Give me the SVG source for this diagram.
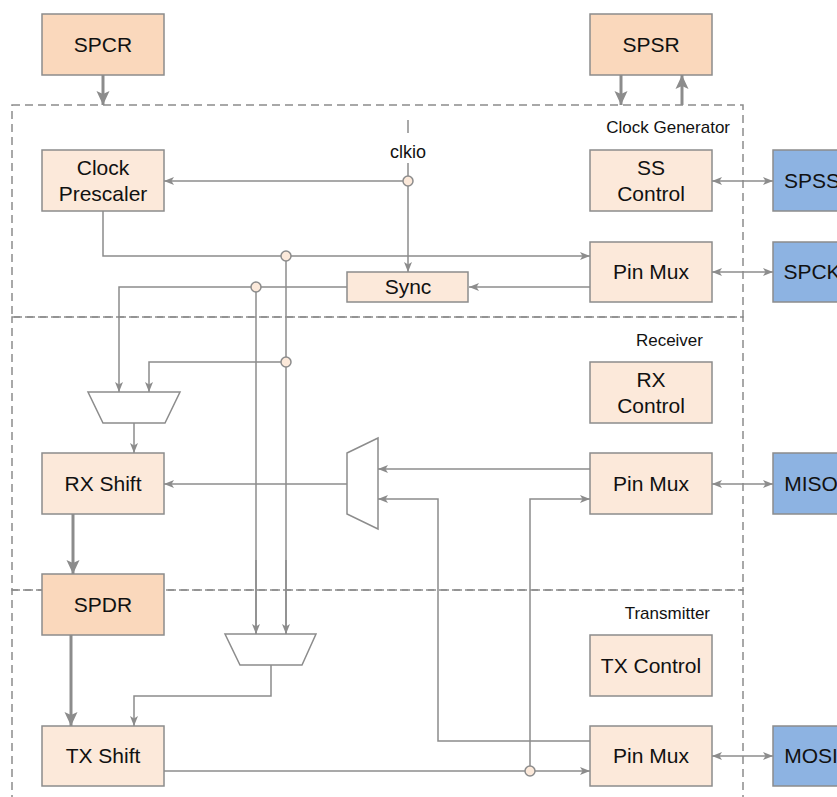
<svg xmlns="http://www.w3.org/2000/svg" width="837" height="797" viewBox="0 0 837 797">
<defs>
<style>
.reg{fill:#fad8bc;stroke:#8c8c8c;stroke-width:1.5}
.blk{fill:#fce9da;stroke:#8c8c8c;stroke-width:1.5}
.pin{fill:#8db3e2;stroke:#8c8c8c;stroke-width:1.5}
.mux{fill:#ffffff;stroke:#8c8c8c;stroke-width:1.5}
.sec{fill:none;stroke:#8c8c8c;stroke-width:1.5;stroke-dasharray:8 5}
.t{font-family:"Liberation Sans",Arial,sans-serif;font-size:21px;fill:#111;text-anchor:middle}
.lbl{font-family:"Liberation Sans",Arial,sans-serif;font-size:17px;fill:#111;text-anchor:end}
.w{fill:none;stroke:#8c8c8c;stroke-width:1.5}
.wa{fill:none;stroke:#8c8c8c;stroke-width:1.5;marker-end:url(#a)}
.wd{fill:none;stroke:#8c8c8c;stroke-width:1.5;marker-start:url(#as);marker-end:url(#a)}
.th{fill:none;stroke:#8c8c8c;stroke-width:3;marker-end:url(#b)}
.dot{fill:#fce9da;stroke:#8c8c8c;stroke-width:1.5}
</style>
<marker id="a" viewBox="0 0 10 10" refX="10" refY="5" markerWidth="10" markerHeight="10" markerUnits="userSpaceOnUse" orient="auto"><path d="M0,1 L10,5 L0,9 L2.5,5 Z" fill="#8c8c8c"/></marker>
<marker id="as" viewBox="0 0 10 10" refX="0" refY="5" markerWidth="10" markerHeight="10" markerUnits="userSpaceOnUse" orient="auto"><path d="M10,1 L0,5 L10,9 L7.5,5 Z" fill="#8c8c8c"/></marker>
<marker id="b" viewBox="0 0 14 14" refX="14" refY="7" markerWidth="14" markerHeight="14" markerUnits="userSpaceOnUse" orient="auto"><path d="M0,0.5 L14,7 L0,13.5 L3,7 Z" fill="#8c8c8c"/></marker>
</defs>
<rect width="837" height="797" fill="#ffffff"/>

<g id="sections">
<rect class="sec" x="12" y="105" width="731" height="212"/>
<rect class="sec" x="12" y="317" width="731" height="273"/>
<rect class="sec" x="12" y="590" width="731" height="240"/>
<text class="lbl" x="730" y="133">Clock Generator</text>
<text class="lbl" x="703" y="346">Receiver</text>
<text class="lbl" x="710" y="619">Transmitter</text>
</g>

<g id="connectors">
<!-- registers -->
<path class="th" d="M103,75 V105"/>
<path class="th" d="M621,75 V105"/>
<path class="th" d="M682,105 V75"/>
<path class="th" d="M73,514 V574"/>
<path class="th" d="M71,635 V726"/>
<!-- clkio -->
<path class="w" d="M408,120 V133"/>
<path class="w" d="M408,163 V176"/>
<path class="wa" d="M403,181 H164"/>
<path class="wa" d="M408,186 V272"/>
<!-- prescaler to pin mux -->
<path class="wa" d="M103,211 V256 H590"/>
<!-- pin mux to sync -->
<path class="wa" d="M590,287 H469"/>
<!-- sync out -->
<path class="wa" d="M347,287 H119 V392"/>
<path class="w" d="M256,292 V634"/>
<path class="wa" d="M256,560 V634"/>
<path class="w" d="M286,261 V634"/>
<path class="wa" d="M286,560 V634"/>
<path class="wa" d="M281,362 H149 V392"/>
<!-- mux to rx shift -->
<path class="wa" d="M134,423 V453"/>
<path class="wa" d="M347,484 H164"/>
<path class="wa" d="M590,469 H378"/>
<path class="wa" d="M590,741 H438 V499 H378"/>
<path class="wa" d="M530,766 V499 H590"/>
<!-- tx -->
<path class="wa" d="M271,665 V696 H134 V726"/>
<path class="wa" d="M164,771 H590"/>
<!-- pins -->
<path class="wd" d="M712,181 H773"/>
<path class="wd" d="M712,272 H773"/>
<path class="wd" d="M712,484 H773"/>
<path class="wd" d="M712,756 H773"/>
<!-- junction dots -->
<circle class="dot" cx="408" cy="181" r="5"/>
<circle class="dot" cx="286" cy="256" r="5"/>
<circle class="dot" cx="256" cy="287" r="5"/>
<circle class="dot" cx="286" cy="362" r="5"/>
<circle class="dot" cx="530" cy="771" r="5"/>
<text x="408" y="158" font-family="Liberation Sans, Arial, sans-serif" font-size="18" fill="#111" text-anchor="middle">clkio</text>
</g>

<g id="SPCR"><rect class="reg" x="42" y="14" width="122" height="61"/><text class="t" x="103" y="52">SPCR</text></g>
<g id="SPSR"><rect class="reg" x="590" y="14" width="122" height="61"/><text class="t" x="651" y="52">SPSR</text></g>
<g id="ClockPrescaler"><rect class="blk" x="42" y="150" width="122" height="61"/><text class="t" x="103" y="175">Clock</text><text class="t" x="103" y="201">Prescaler</text></g>
<g id="SSControl"><rect class="blk" x="590" y="150" width="122" height="61"/><text class="t" x="651" y="175">SS</text><text class="t" x="651" y="201">Control</text></g>
<g id="Sync"><rect class="blk" x="347" y="272" width="121" height="30"/><text class="t" x="408" y="294">Sync</text></g>
<g id="PinMuxSCK"><rect class="blk" x="590" y="242" width="122" height="60"/><text class="t" x="651" y="279">Pin Mux</text></g>
<g id="SPSS"><rect class="pin" x="773" y="150" width="76" height="61"/><text class="t" x="812" y="188">SPSS</text></g>
<g id="SPCK"><rect class="pin" x="773" y="242" width="76" height="60"/><text class="t" x="812" y="279">SPCK</text></g>
<g id="RXMux"><path class="mux" d="M88,392 H180 L165,423 H103 Z"/></g>
<g id="RXControl"><rect class="blk" x="590" y="362" width="122" height="61"/><text class="t" x="651" y="387">RX</text><text class="t" x="651" y="413">Control</text></g>
<g id="RXShift"><rect class="blk" x="42" y="453" width="122" height="61"/><text class="t" x="103" y="491">RX Shift</text></g>
<g id="InMux"><path class="mux" d="M347,453 L378,438 V529 L347,514 Z"/></g>
<g id="PinMuxMISO"><rect class="blk" x="590" y="453" width="122" height="61"/><text class="t" x="651" y="491">Pin Mux</text></g>
<g id="MISO"><rect class="pin" x="773" y="453" width="76" height="61"/><text class="t" x="811" y="491">MISO</text></g>
<g id="SPDR"><rect class="reg" x="42" y="574" width="122" height="61"/><text class="t" x="103" y="612">SPDR</text></g>
<g id="TXMux"><path class="mux" d="M225,634 H316 L302,665 H240 Z"/></g>
<g id="TXControl"><rect class="blk" x="590" y="635" width="122" height="61"/><text class="t" x="651" y="673">TX Control</text></g>
<g id="TXShift"><rect class="blk" x="42" y="726" width="122" height="60"/><text class="t" x="103" y="763">TX Shift</text></g>
<g id="PinMuxMOSI"><rect class="blk" x="590" y="726" width="122" height="60"/><text class="t" x="651" y="763">Pin Mux</text></g>
<g id="MOSI"><rect class="pin" x="773" y="726" width="76" height="60"/><text class="t" x="811" y="763">MOSI</text></g>
</svg>
